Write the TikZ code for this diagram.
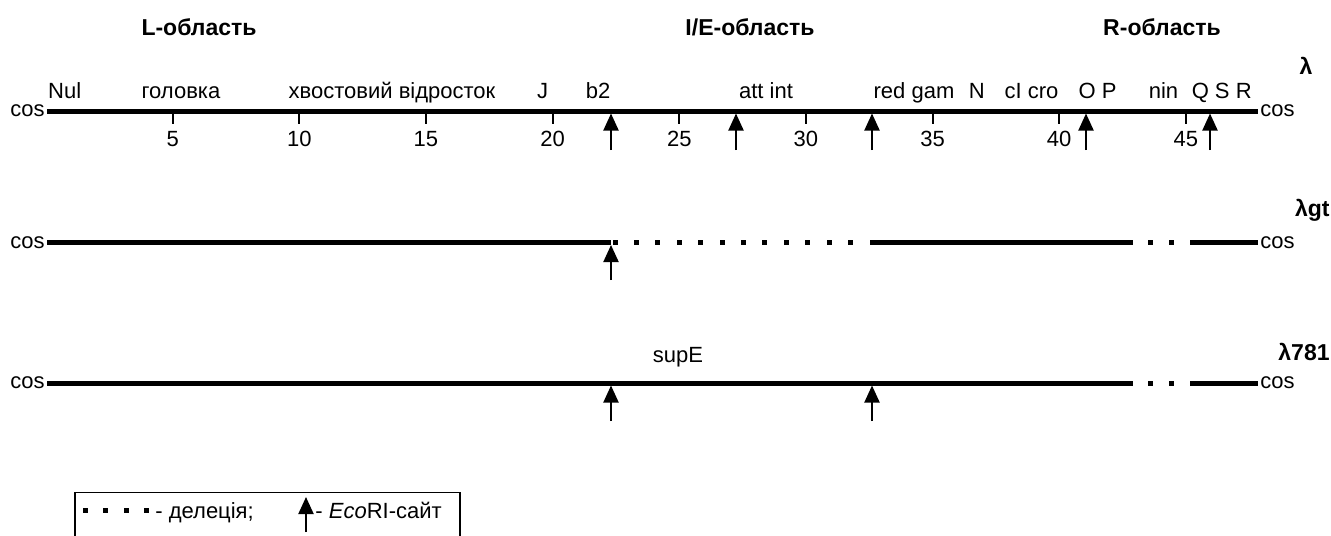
\documentclass[tikz,border=0pt]{standalone}
\usepackage{fontspec}
\setmainfont{Liberation Sans}
\usetikzlibrary{arrows.meta}
\begin{document}
\begin{tikzpicture}[x=0.5pt,y=-0.5pt,
  chrom/.style={line width=2.5pt},
  tickmark/.style={line width=1pt},
  site/.style={line width=1pt,-{Triangle[length=8.5pt,width=7.5pt]}},
  lbl/.style={font=\fontsize{11}{13}\selectfont, inner sep=0pt, anchor=base},
  leglbl/.style={font=\fontsize{11}{13}\selectfont, inner sep=0pt, anchor=base west},
  ttl/.style={font=\fontsize{11.5}{14}\selectfont\bfseries, inner sep=0pt},
  cosl/.style={font=\fontsize{11}{13}\selectfont, inner sep=1pt},
  delsq/.style={fill=black},
  legbox/.style={draw=black, line width=0.6pt}
]
\useasboundingbox (0,0) rectangle (1331,535);

% region titles
\node[ttl] (tL) at (199,27) {L-область};
\node[ttl] (tIE) at (750,27) {I/E-область};
\node[ttl] (tR) at (1162,27) {R-область};

% ===== lambda =====
\node[ttl] (lam) at (1306,66) {λ};
\coordinate (a0) at (47,111);
\coordinate (a1) at (1258,111);
\draw[chrom] (a0) -- (a1);
\node[cosl,anchor=east] (cosa0) at (a0) {cos};
\node[cosl,anchor=west] (cosa1) at (a1) {cos};
\foreach \k in {5,10,...,45} {
  \coordinate (tk\k a) at ({46+25.33*\k},113);
  \coordinate (tk\k b) at ({46+25.33*\k},124);
  \draw[tickmark] (tk\k a) -- (tk\k b);
  \node[lbl] (num\k) at ({46+25.33*\k},146) {\k};
}
\node[lbl] (gNul) at (64.7,98) {Nul};
\node[lbl] (gHead) at (181,98) {головка};
\node[lbl] (gTail) at (392,98) {хвостовий відросток};
\node[lbl] (gJ) at (542.7,98) {J};
\node[lbl] (gb2) at (598,98) {b2};
\node[lbl] (gatt) at (766,98) {att int};
\node[lbl] (gred) at (914,98) {red gam};
\node[lbl] (gN) at (976.7,98) {N};
\node[lbl] (gcI) at (1031.5,98) {cI cro};
\node[lbl] (gOP) at (1097.5,98) {O P};
\node[lbl] (gnin) at (1163.5,98) {nin};
\node[lbl] (gQSR) at (1221.7,98) {Q S R};
\foreach \x [count=\i] in {611,736,872,1086,1210} {
  \coordinate (as\i) at (\x,150);
  \coordinate (ae\i) at (\x,113.5);
  \draw[site] (as\i) -- (ae\i);
}

% ===== lambda gt =====
\node[ttl,anchor=east] (lamgt) at (1330,210) {λgt};
\coordinate (b0) at (47,242.5);
\coordinate (b1) at (611,242.5);
\coordinate (b2) at (874,242.5);
\coordinate (b3) at (1133,242.5);
\coordinate (b4) at (1190,242.5);
\coordinate (b5) at (1258,242.5);
\draw[chrom] (b0) -- (b1);
\draw[chrom] (b2) -- (b3);
\draw[chrom] (b4) -- (b5);
\foreach \k in {0,...,12} {
  \fill[delsq] ({615+21.42*\k-2.5},240) rectangle ({615+21.42*\k+2.5},245);
}
\foreach \x in {1150,1171} {
  \fill[delsq] (\x-2.5,240) rectangle (\x+2.5,245);
}
\node[cosl,anchor=east] (cosb0) at (b0) {cos};
\node[cosl,anchor=west] (cosb1) at (b5) {cos};
\coordinate (bs1) at (611,280);
\coordinate (be1) at (611,245);
\draw[site] (bs1) -- (be1);

% ===== lambda 781 =====
\node[ttl,anchor=east] (lam781) at (1330,352) {λ781};
\node[lbl] (gsupE) at (678,362) {supE};
\coordinate (c0) at (47,383);
\coordinate (c1) at (1133,383);
\coordinate (c2) at (1190,383);
\coordinate (c3) at (1258,383);
\draw[chrom] (c0) -- (c1);
\draw[chrom] (c2) -- (c3);
\foreach \x in {1150,1171} {
  \fill[delsq] (\x-2.5,380.5) rectangle (\x+2.5,385.5);
}
\node[cosl,anchor=east] (cosc0) at (c0) {cos};
\node[cosl,anchor=west] (cosc1) at (c3) {cos};
\foreach \x [count=\i] in {611,872} {
  \coordinate (cs\i) at (\x,421);
  \coordinate (ce\i) at (\x,385.5);
  \draw[site] (cs\i) -- (ce\i);
}

% ===== legend =====
\draw[legbox] (75,492.7) rectangle (460,560);
\foreach \x in {85,105,126,146} {
  \fill[delsq] (\x-2.5,507.5) rectangle (\x+2.5,512.5);
}
\node[leglbl] (legdel) at (155,518) {- делеція;};
\coordinate (ls) at (306,532);
\coordinate (le) at (306,497);
\draw[site] (ls) -- (le);
\node[leglbl] (legeco) at (315,518) {- \textit{Eco}RI-сайт};
\end{tikzpicture}
\end{document}
